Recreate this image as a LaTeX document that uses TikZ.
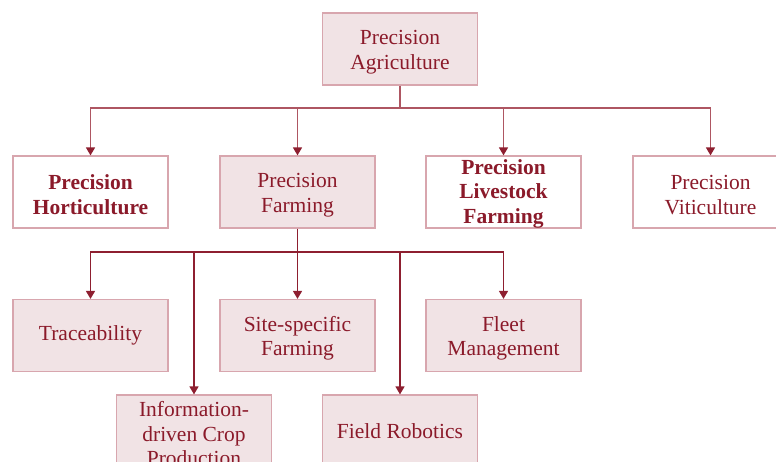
\documentclass[tikz,border=0pt]{standalone}
\usepackage{fontspec}
\setmainfont{Liberation Serif}
\usetikzlibrary{arrows.meta}
\definecolor{txtred}{HTML}{8B1A2A}
\definecolor{linered}{HTML}{8E1F30}
\definecolor{lightline}{HTML}{AE5662}
\definecolor{boxborder}{HTML}{D8A6AE}
\definecolor{boxfill}{HTML}{F1E3E5}
\newcommand{\topstrut}{\rule{0pt}{20.5pt}}
\newcommand{\smallstrut}{\rule{0pt}{18pt}}
\tikzset{
  box/.style={draw=boxborder, line width=1.2pt, minimum width=155pt, minimum height=72pt,
    inner sep=0pt, align=center, text=txtred, font=\fontsize{21.5}{24.5}\selectfont},
  filled/.style={box, fill=boxfill},
  plain/.style={box, fill=white},
  conn/.style={draw=linered, line width=1.4pt},
  connlight/.style={draw=lightline, line width=1.4pt},
  arr/.style={-{Triangle[width=9pt,length=8pt,color=linered]}}
}
\begin{document}
\begin{tikzpicture}[x=1pt,y=-1pt]
\useasboundingbox (0,0) rectangle (776,461);
\clip (0,0) rectangle (776,461);
\node[filled] (pa) at (400,49) {\topstrut Precision\\Agriculture};
\node[plain, font=\fontsize{21.5}{24.5}\selectfont\bfseries] (ph) at (90.5,192) {\topstrut Precision\\Horticulture};
\node[filled] (pf) at (297.5,192) {\topstrut Precision\\Farming};
\node[plain, font=\fontsize{21.5}{24.5}\selectfont\bfseries] (pl) at (503.5,192) {\smallstrut Precision\\Livestock\\Farming};
\node[plain] (pv) at (710.5,192) {\topstrut Precision\\Viticulture};
\node[filled] (tr) at (90.5,335.5) {Traceability};
\node[filled] (ss) at (297.5,335.5) {\topstrut Site-specific\\Farming};
\node[filled] (fm) at (503.5,335.5) {\topstrut Fleet\\Management};
\node[filled] (ic) at (194,431) {\topstrut Information-\\driven Crop\\Production};
\node[filled] (fr) at (400,431) {Field Robotics};
\coordinate (j1) at (400,108);
\coordinate (j2) at (297.5,252);
\draw[connlight] (pa.south) -- (j1);
\draw[connlight, arr] (j1) -| (ph.north);
\draw[connlight, arr] (j1) -| (pf.north);
\draw[connlight, arr] (j1) -| (pl.north);
\draw[connlight, arr] (j1) -| (pv.north);
\draw[conn] (pf.south) -- (j2);
\draw[conn, arr] (j2) -| (tr.north);
\draw[conn, arr] (j2) -- (ss.north);
\draw[conn, arr] (j2) -| (fm.north);
\draw[conn, arr] (j2) -| (ic.north);
\draw[conn, arr] (j2) -| (fr.north);
\end{tikzpicture}
\end{document}
